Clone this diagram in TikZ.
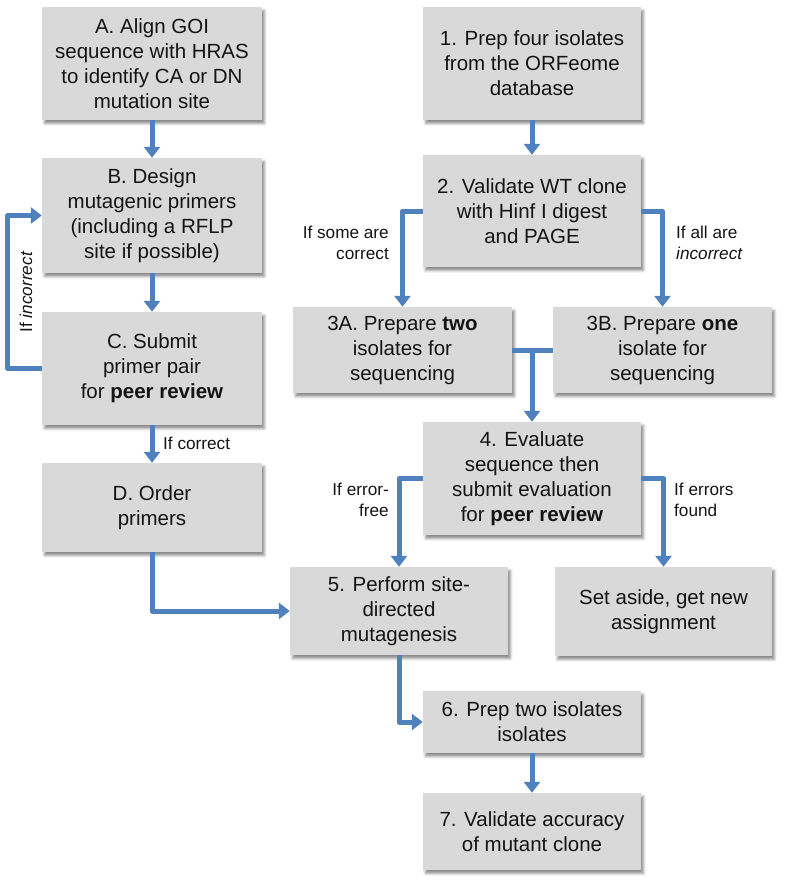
\documentclass[tikz,border=0pt]{standalone}
\usepackage{fontspec}
\setmainfont{Liberation Sans}
\usetikzlibrary{arrows.meta,shadows.blur}
\definecolor{boxgray}{RGB}{217,217,217}
\definecolor{flowblue}{RGB}{79,129,189}
\definecolor{txt}{RGB}{20,20,20}
\begin{document}
\begin{tikzpicture}[x=1pt,y=-1pt,
  box/.style={fill=boxgray, draw=none, inner sep=0pt, align=center, text=txt,
    font=\fontsize{20.5}{25}\selectfont,
    blur shadow={shadow xshift=2.5pt, shadow yshift=-3.5pt, shadow blur radius=2.5pt, shadow opacity=45}},
  lbl/.style={inner sep=0pt, text=txt, font=\fontsize{17.2}{21}\selectfont},
  flowline/.style={draw=flowblue, line width=5pt, line join=round},
  flow/.style={flowline, -{Triangle[width=16pt,length=11pt]}}]
\useasboundingbox (0,0) rectangle (787,884);
% left column
\node[box, minimum width=220pt, minimum height=113pt] (A) at (152,63.5)
  {A. Align GOI\\sequence with HRAS\\to identify CA or DN\\mutation site};
\node[box, minimum width=220pt, minimum height=115pt] (B) at (152,215.5)
  {B. Design\\mutagenic primers\\(including a RFLP\\site if possible)};
\node[box, minimum width=220pt, minimum height=113pt] (C) at (152,368.5)
  {C. Submit\\primer pair\\for \textbf{peer review}};
\node[box, minimum width=220pt, minimum height=89pt] (D) at (152,507.5)
  {D. Order\\primers};
% right column
\node[box, minimum width=218pt, minimum height=113pt] (n1) at (532,63.5)
  {1. Prep four isolates\\from the ORFeome\\database};
\node[box, minimum width=218pt, minimum height=112pt] (n2) at (532,211)
  {2. Validate WT clone\\with Hinf I digest\\and PAGE};
\node[box, minimum width=219pt, minimum height=86pt] (n3A) at (402.5,350)
  {3A. Prepare \textbf{two}\\isolates for\\sequencing};
\node[box, minimum width=219pt, minimum height=86pt] (n3B) at (662.5,350)
  {3B. Prepare \textbf{one}\\isolate for\\sequencing};
\node[box, minimum width=218pt, minimum height=113pt] (n4) at (532,478.5)
  {4. Evaluate\\sequence then\\submit evaluation\\for \textbf{peer review}};
\node[box, minimum width=218pt, minimum height=88pt] (n5) at (399,611)
  {5. Perform site-\\directed\\mutagenesis};
\node[box, minimum width=217pt, minimum height=89pt] (sa) at (663.5,611.5)
  {Set aside, get new\\assignment};
\node[box, minimum width=218pt, minimum height=62pt] (n6) at (532,722)
  {6. Prep two isolates\\isolates};
\node[box, minimum width=218pt, minimum height=77pt] (n7) at (532,831.5)
  {7. Validate accuracy\\of mutant clone};
% connectors, left
\draw[flow] (A) -- (B);
\draw[flow] (B) -- (C);
\draw[flow] (C.west) -- ++(-34,0) |- (B.west);
\draw[flow] (C) -- (D);
\draw[flow] (D.south) |- (n5.west);
% connectors, right
\draw[flow] (n1) -- (n2);
\draw[flow] (n2.west) -| (n3A.north);
\draw[flow] (n2.east) -| (n3B.north);
\draw[flowline] (n3A.east) -- (n3B.west);
\draw[flow] (n3A.east -| n4.north) -- (n4.north);
\draw[flow] (n4.west) -| (n5.north);
\draw[flow] (n4.east) -| (sa.north);
\draw[flow] (n5.south) |- (n6.west);
\draw[flow] (n6) -- (n7);
% labels
\node[lbl, rotate=90] (lInc) at (26,292) {If \textit{incorrect}};
\node[lbl, anchor=west] (lCor) at (163,443) {If correct};
\node[lbl, anchor=east, align=right] (lSome) at (389,243) {If some are\\correct};
\node[lbl, anchor=west, align=left] (lAll) at (676,243) {If all are\\\textit{incorrect}};
\node[lbl, anchor=east, align=right] (lFree) at (389,500) {If error-\\free};
\node[lbl, anchor=west, align=left] (lFound) at (674,500) {If errors\\found};
\end{tikzpicture}
\end{document}
